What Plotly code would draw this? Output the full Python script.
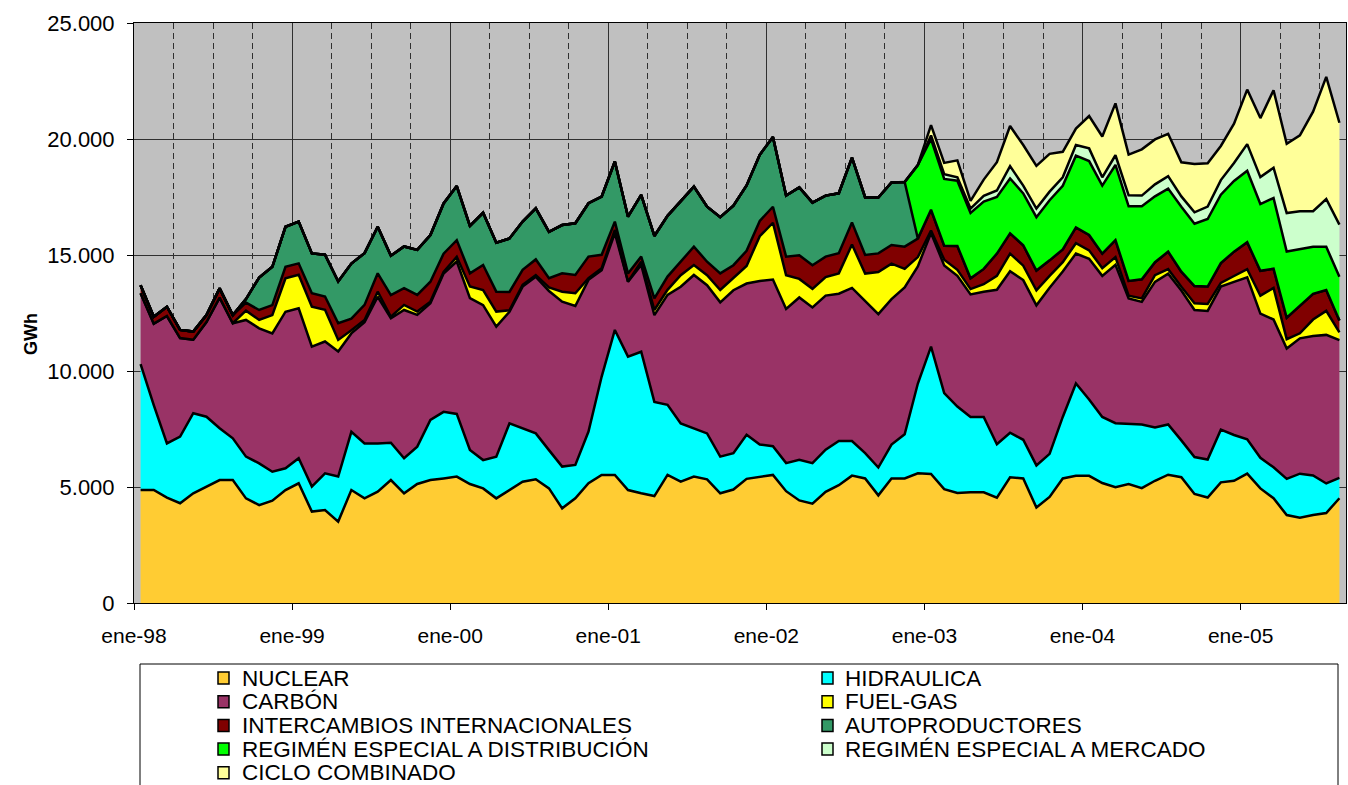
import plotly.graph_objects as go

# ---------------- data (GWh per month, ene-98 .. ago-05) ----------------
n_months = 92
tick_labels = ["ene-98", "ene-99", "ene-00", "ene-01", "ene-02", "ene-03", "ene-04", "ene-05"]

nuclear = [4870, 4870, 4540, 4300, 4730, 5010, 5300, 5300, 4510, 4220, 4410, 4870,
           5160, 3940, 4010, 3510, 4870, 4510, 4800, 5300, 4730, 5130, 5300, 5370,
           5450, 5130, 4940, 4510, 4870, 5230, 5330, 4940, 4080, 4510, 5160, 5520,
           5520, 4870, 4730, 4610, 5520, 5230, 5450, 5330, 4730, 4890, 5350, 5440,
           5520, 4820, 4420, 4280, 4790, 5080, 5490, 5370, 4640, 5370, 5370, 5590,
           5560, 4910, 4740, 4770, 4770, 4540, 5420, 5370, 4120, 4570, 5370, 5480,
           5480, 5170, 4990, 5130, 4950, 5270, 5530, 5420, 4700, 4545, 5200, 5270,
           5575, 4940, 4515, 3790, 3680, 3790, 3880, 4515]

hidraulica = [5430, 3660, 2340, 2870, 3450, 3020, 2230, 1800, 1800, 1800, 1250, 935,
              1080, 1080, 1580, 1940, 2510, 2370, 2080, 1610, 1510, 1610, 2590, 2870,
              2700, 1470, 1220, 1800, 2870, 2300, 1980, 1650, 1800, 1440, 2230, 4240,
              6250, 5750, 6100, 4060, 3020, 2510, 2080, 1980, 1580, 1570, 1900, 1390,
              1240, 1210, 1750, 1750, 1820, 1900, 1490, 1090, 1200, 1460, 1900, 3870,
              5490, 4140, 3730, 3250, 3250, 2300, 1920, 1665, 1810, 1860, 2650, 3980,
              3295, 2850, 2760, 2576, 2740, 2300, 2166, 1590, 1590, 1636, 2270, 1970,
              1485, 1318, 1333, 1560, 1895, 1710, 1273, 878]

carbon = [3050, 3510, 5490, 4250, 3170, 4080, 5630, 4960, 5890, 5820, 5960, 6750,
          6460, 6030, 5680, 5390, 4240, 5220, 6320, 5360, 6390, 5680, 5030, 5960,
          6570, 6540, 6680, 5600, 4810, 6110, 6750, 6860, 7110, 6850, 6540, 4580,
          4170, 3230, 3740, 3740, 4740, 5890, 6610, 6390, 6650, 7020, 6520, 7050,
          7180, 6640, 7000, 6710, 6640, 6350, 6600, 6570, 6610, 6270, 6330, 5050,
          4900, 5500, 5630, 5280, 5400, 6660, 6960, 6885, 6900, 7160, 6270, 5600,
          6065, 6080, 6830, 5424, 5290, 6270, 6500, 6460, 6340, 6409, 6170, 6600,
          6980, 6218, 6372, 5617, 5833, 6012, 6404, 5940]

fuel_gas = [0, 0, 0, 0, 0, 0, 0, 0, 400, 360, 790, 1440,
            1450, 1720, 1370, 500, 140, 100, 220, 70, 220, 140, 70, 70,
            200, 500, 650, 650, 70, 70, 70, 150, 430, 550, 70, 90,
            140, 0, 140, 220, 220, 500, 430, 430, 530, 540, 760, 1930,
            2450, 1460, 800, 800, 800, 880, 1870, 1170, 1820, 1530, 800, 400,
            100, 250, 260, 230, 320, 600, 760, 620, 650, 510, 400, 450,
            360, 335, 330, 120, 150, 290, 195, 160, 290, 300, 160, 255,
            350, 770, 1360, 405, 217, 706, 1035, 334]

intercambios = [350, 300, 400, 350, 350, 300, 400, 350, 350, 430, 430, 500,
                490, 580, 570, 720, 500, 650, 790, 930, 720, 720, 860, 790,
                720, 570, 1080, 860, 790, 650, 680, 400, 790, 790, 930, 580,
                360, 350, 220, 500, 570, 580, 790, 580, 720, 540, 650, 660,
                690, 800, 1020, 1020, 880, 870, 950, 800, 800, 800, 960, 800,
                900, 600, 1030, 470, 660, 960, 875, 880, 850, 670, 550, 680,
                665, 625, 735, 630, 820, 560, 755, 650, 740, 750, 850, 1050,
                1160, 1075, 830, 923, 1185, 1108, 897, 513]

autoproductores = [0, 0, 0, 0, 0, 0, 0, 0, 150, 1400, 1650, 1720,
                   1800, 1720, 1800, 1800, 2370, 2230, 2010, 1700, 1800, 1940, 2010, 2160,
                   2330, 2040, 2250, 2110, 2300, 2080, 2200, 2000, 2080, 2230, 2300, 2510,
                   2590, 2450, 2660, 2690, 2620, 2630, 2590, 2370, 2420, 2570, 2820, 2850,
                   3010, 2630, 2920, 2700, 2630, 2580, 2800, 2480, 2410, 2700, 2790, 0,
                   0, 0, 0, 0, 0, 0, 0, 0, 0, 0, 0, 0,
                   0, 0, 0, 0, 0, 0, 0, 0, 0, 0, 0, 0,
                   0, 0, 0, 0, 0, 0, 0, 0]

re_distribucion = [0] * 59 + [3170,
                   3050, 2880, 2810, 2815, 2900, 2440, 2365, 2236, 2300, 2590, 2745, 3090,
                   3185, 2930, 3235, 3220, 3150, 2840, 2715, 2800, 2690, 2910, 2950, 3045,
                   3085, 2875, 3045, 2854, 2432, 2027, 1865, 1882]

re_mercado = [0] * 60 + [150, 200, 150, 185, 250, 280, 530, 334, 370, 370, 365, 463,
                         546, 360, 420, 470, 460, 515, 540, 445, 490, 535, 628, 775,
                         1145, 1160, 1305, 1659, 1646, 1536, 2058, 2250]

ciclo_combinado = [0] * 60 + [450, 490, 730, 330, 700, 1220, 1730, 1750, 1840, 1630, 1100, 707,
                              1394, 1760, 2237, 1760, 1995, 1935, 1825, 1470, 2080, 1865, 1472, 1695,
                              2350, 2545, 3340, 2987, 3272, 4288, 5265, 4388]

series_names = ["NUCLEAR", "HIDRAULICA", "CARBÓN", "FUEL-GAS",
                "INTERCAMBIOS INTERNACIONALES", "AUTOPRODUCTORES",
                "REGIMÉN ESPECIAL A DISTRIBUCIÓN", "REGIMÉN ESPECIAL A MERCADO",
                "CICLO COMBINADO"]
series_values = [nuclear, hidraulica, carbon, fuel_gas, intercambios, autoproductores,
                 re_distribucion, re_mercado, ciclo_combinado]
series_colors = ["#FFCC33", "#00FFFF", "#993366", "#FFFF00", "#800000", "#339966",
                 "#00FF00", "#CCFFCC", "#FFFF99"]

# ---------------- figure ----------------
W, H = 1348, 785
ML, MR, MT, MB = 134, 2, 23, 182
PW, PH = W - ML - MR, H - MT - MB

x = [m + 0.5 for m in range(n_months)]   # each month centred in its category

fig = go.Figure()
for name, vals, col in zip(series_names, series_values, series_colors):
    fig.add_trace(go.Scatter(
        x=x, y=vals, name=name, mode="lines", stackgroup="gen",
        line=dict(color="black", width=2.5), fillcolor=col,
        showlegend=False, hovertemplate="%{y:,d} GWh<extra>" + name + "</extra>"))

FONT = "Liberation Sans, Arial, sans-serif"
fig.update_layout(
    width=W, height=H, margin=dict(l=ML, r=MR, t=MT, b=MB),
    paper_bgcolor="white", plot_bgcolor="#C0C0C0", separators=",.",
    font=dict(family=FONT, color="black"), showlegend=False,
)
fig.update_xaxes(
    range=[0, n_months], tickmode="array",
    tickvals=[12 * k for k in range(len(tick_labels))], ticktext=tick_labels,
    showgrid=True, gridcolor="#303030", gridwidth=1,
    ticks="outside", ticklen=6, tickcolor="black", tickfont=dict(size=21),
    ticklabelstandoff=8,
    showline=True, linecolor="black", linewidth=1, mirror=True, zeroline=False,
    minor=dict(tickmode="linear", tick0=0, dtick=3, showgrid=True,
               gridcolor="#303030", griddash="6px,4px", gridwidth=1),
)
fig.update_yaxes(
    range=[0, 25000], dtick=5000, tickformat=",d",
    showgrid=True, gridcolor="#303030", gridwidth=1,
    ticks="outside", ticklen=6, tickcolor="black", tickfont=dict(size=22),
    ticklabelstandoff=8,
    showline=True, linecolor="black", linewidth=1, mirror=True, zeroline=False,
)

def px_x(px):
    return (px - ML) / PW

def px_y(py):
    return (H - MB - py) / PH

annotations = [dict(text="<b>GWh</b>", x=px_x(19), y=px_y(334), xref="paper", yref="paper",
                    textangle=-90, showarrow=False, font=dict(size=18, family=FONT))]
shapes = [dict(type="rect", xref="paper", yref="paper",
               x0=px_x(140), x1=px_x(1338), y0=px_y(800), y1=px_y(664),
               line=dict(color="black", width=1), fillcolor="white", layer="above")]

# legend (two columns, row-major order as in the original)
col_sw = [218, 822]
col_tx = [240, 843]
row0, row_step = 678, 23.7
for k, (name, col) in enumerate(zip(series_names, series_colors)):
    r, c = divmod(k, 2)
    cy = row0 + r * row_step
    shapes.append(dict(type="rect", xref="paper", yref="paper",
                       x0=px_x(col_sw[c]), x1=px_x(col_sw[c] + 11),
                       y0=px_y(cy + 6), y1=px_y(cy - 6),
                       line=dict(color="black", width=1.5), fillcolor=col, layer="above"))
    annotations.append(dict(text=name, x=px_x(col_tx[c]), y=px_y(cy),
                            xref="paper", yref="paper", xanchor="left", yanchor="middle",
                            showarrow=False, font=dict(size=22.5, family=FONT)))

fig.update_layout(annotations=annotations, shapes=shapes)
fig.write_html(
    "out.html",
    config={"displayModeBar": False},
    post_script="document.body.style.margin='0';document.body.style.overflow='hidden';",
)
